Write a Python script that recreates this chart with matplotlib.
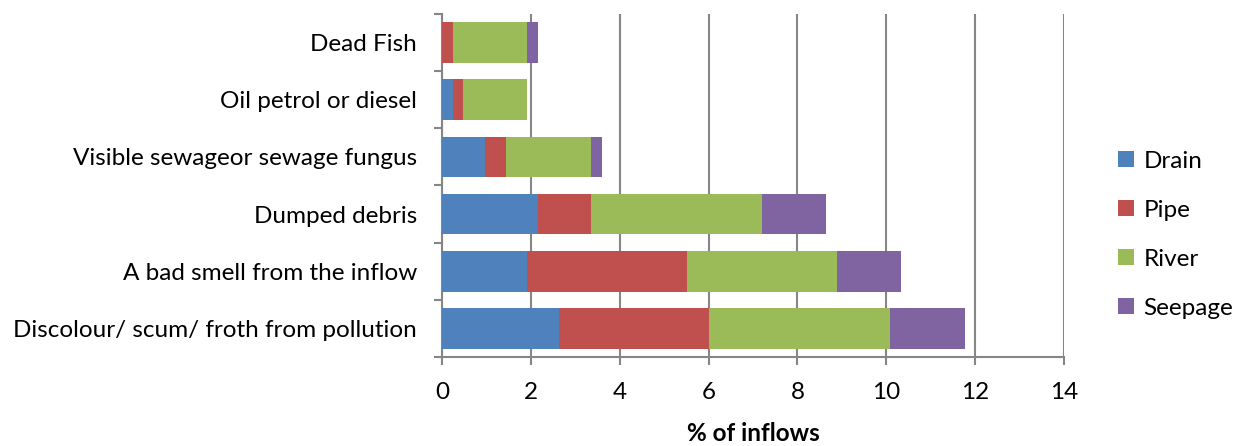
import matplotlib.pyplot as plt
import numpy as np
from matplotlib.patches import Patch

plt.rcParams['font.family'] = ['Lato', 'DejaVu Sans']

categories = ["Discolour/ scum/ froth from pollution", "A bad smell from the inflow",
              "Dumped debris", "Visible sewageor sewage fungus",
              "Oil petrol or diesel", "Dead Fish"]
drain = [2.64, 1.92, 2.16, 0.96, 0.24, 0.0]
pipe = [3.36, 3.60, 1.20, 0.48, 0.24, 0.24]
river = [4.08, 3.36, 3.84, 1.92, 1.44, 1.68]
seepage = [1.68, 1.44, 1.44, 0.24, 0.0, 0.24]

series = ["Drain", "Pipe", "River", "Seepage"]
colors = ["#4F81BD", "#C0504D", "#9BBB59", "#8064A2"]
fs = 17.5

fig = plt.figure(figsize=(12.41, 4.46), dpi=100)
ax = fig.add_axes([0.3562, 0.1996, 0.5012, 0.769])

y = np.arange(len(categories))
left = np.zeros(len(categories))
for name, vals, col in zip(series, [drain, pipe, river, seepage], colors):
    ax.barh(y, vals, left=left, height=0.714, color=col, label=name, zorder=3)
    left += np.array(vals)

# axes, grid and ticks
ax.set_xlim(0, 14)
ax.set_ylim(-0.5, len(categories) - 0.5)
ax.set_xticks(np.arange(0, 15, 2))
ax.set_yticks(y)
ax.set_yticklabels(categories, fontsize=fs)
ax.set_yticks(np.arange(-0.5, len(categories), 1), minor=True)
ax.tick_params(axis='y', which='major', length=0, pad=18)
ax.tick_params(axis='y', which='minor', length=6, width=1.5, color='#868686', direction='out')
ax.tick_params(axis='x', length=6, width=1.5, color='#868686', labelsize=fs, pad=12)
ax.xaxis.grid(True, color='#868686', linewidth=1.5, zorder=0)
for side in ['top', 'right']:
    ax.spines[side].set_visible(False)
for side in ['left', 'bottom']:
    ax.spines[side].set_color('#868686')
    ax.spines[side].set_linewidth(1.5)

ax.set_xlabel('% of inflows', fontsize=fs, fontweight='bold', labelpad=14)

handles = [Patch(facecolor=c, label=s) for s, c in zip(series, colors)]
fig.legend(handles=handles, loc='center left', bbox_to_anchor=(0.901, 0.474),
           frameon=False, fontsize=fs, handlelength=0.65, handleheight=0.65,
           handletextpad=0.4, labelspacing=1.15, borderaxespad=0, borderpad=0)

fig.savefig('out.png', dpi=100)
